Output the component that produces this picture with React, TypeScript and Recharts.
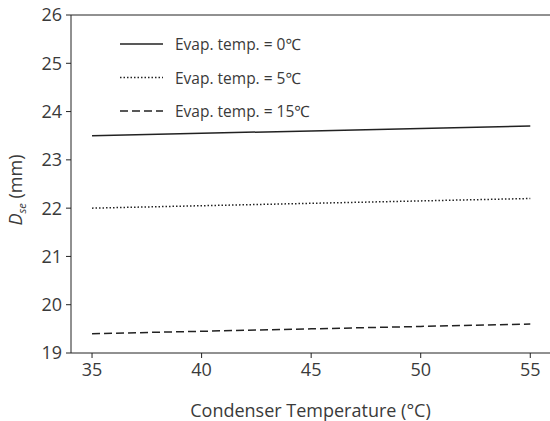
import { LineChart, Line, XAxis, YAxis, ReferenceLine } from 'recharts'

const condenserTemps = [35, 40, 45, 50, 55]
const evap0 = [23.5, 23.55, 23.6, 23.65, 23.7]
const evap5 = [22.0, 22.05, 22.1, 22.15, 22.2]
const evap15 = [19.4, 19.45, 19.5, 19.55, 19.6]
const xTicks = [35, 40, 45, 50, 55]
const yTicks = [19, 20, 21, 22, 23, 24, 25, 26]

const data = condenserTemps.map((t, i) => ({ t, e0: evap0[i], e5: evap5[i], e15: evap15[i] }))

const INK = '#222'
const TEXT = '#3a3a3a'
const FONT = '"Open Sans", "Noto Sans", sans-serif'

const series = [
    { key: 'e0', name: 'Evap. temp. = 0℃', dash: undefined as string | undefined },
    { key: 'e5', name: 'Evap. temp. = 5℃', dash: '1.5 2' },
    { key: 'e15', name: 'Evap. temp. = 15℃', dash: '8 4' },
]

// legend drawn over the plot, top-left
const LegendBox = () => (
    <svg width={260} height={110} style={{ position: 'absolute', top: 34, left: 120 }}>
        {series.map((s, i) => (
            <g key={s.key}>
                <line x1={0} x2={43} y1={10 + i * 33.5} y2={10 + i * 33.5} stroke={INK} strokeWidth={1.5} strokeDasharray={s.dash} />
                <text x={55} y={10 + i * 33.5} dominantBaseline="central" fontSize={15.5} fill={TEXT} fontFamily={FONT}>{s.name}</text>
            </g>
        ))}
    </svg>
)

const YLabel = () => (
    <text transform="translate(22,190) rotate(-90)" textAnchor="middle" fontSize={18} fill={TEXT} fontFamily={FONT}>
        <tspan fontStyle="italic">D</tspan>
        <tspan fontStyle="italic" fontSize={11} dy={4}>se</tspan>
        <tspan dy={-4}> (mm)</tspan>
    </text>
)

export default function App() {
    return (
        <div style={{ position: 'absolute', top: 0, left: 0, width: 550, height: 421, background: '#fff' }}>
            <LineChart width={550} height={421} data={data} margin={{ top: 15, right: 0, left: 0, bottom: 0 }}>
                <XAxis
                    dataKey="t"
                    type="number"
                    domain={[34.04, 55.9]}
                    ticks={xTicks}
                    allowDataOverflow
                    height={68}
                    tickSize={5}
                    tickMargin={5}
                    stroke={INK}
                    tick={{ fill: TEXT, fontSize: 18, fontFamily: FONT }}
                    label={{ value: 'Condenser Temperature (°C)', position: 'insideBottom', offset: 4, fill: TEXT, fontSize: 18, fontFamily: FONT }}
                />
                <YAxis
                    type="number"
                    domain={[19, 26]}
                    ticks={yTicks}
                    width={71}
                    tickSize={5}
                    tickMargin={4}
                    stroke={INK}
                    tick={{ fill: TEXT, fontSize: 18, fontFamily: FONT }}
                    label={<YLabel />}
                />
                <ReferenceLine y={26} stroke={INK} strokeWidth={1} />
                {series.map(s => (
                    <Line
                        key={s.key}
                        dataKey={s.key}
                        name={s.name}
                        stroke={INK}
                        strokeWidth={1.5}
                        strokeDasharray={s.dash}
                        dot={false}
                        activeDot={false}
                        isAnimationActive={false}
                    />
                ))}
            </LineChart>
            <LegendBox />
        </div>
    )
}
